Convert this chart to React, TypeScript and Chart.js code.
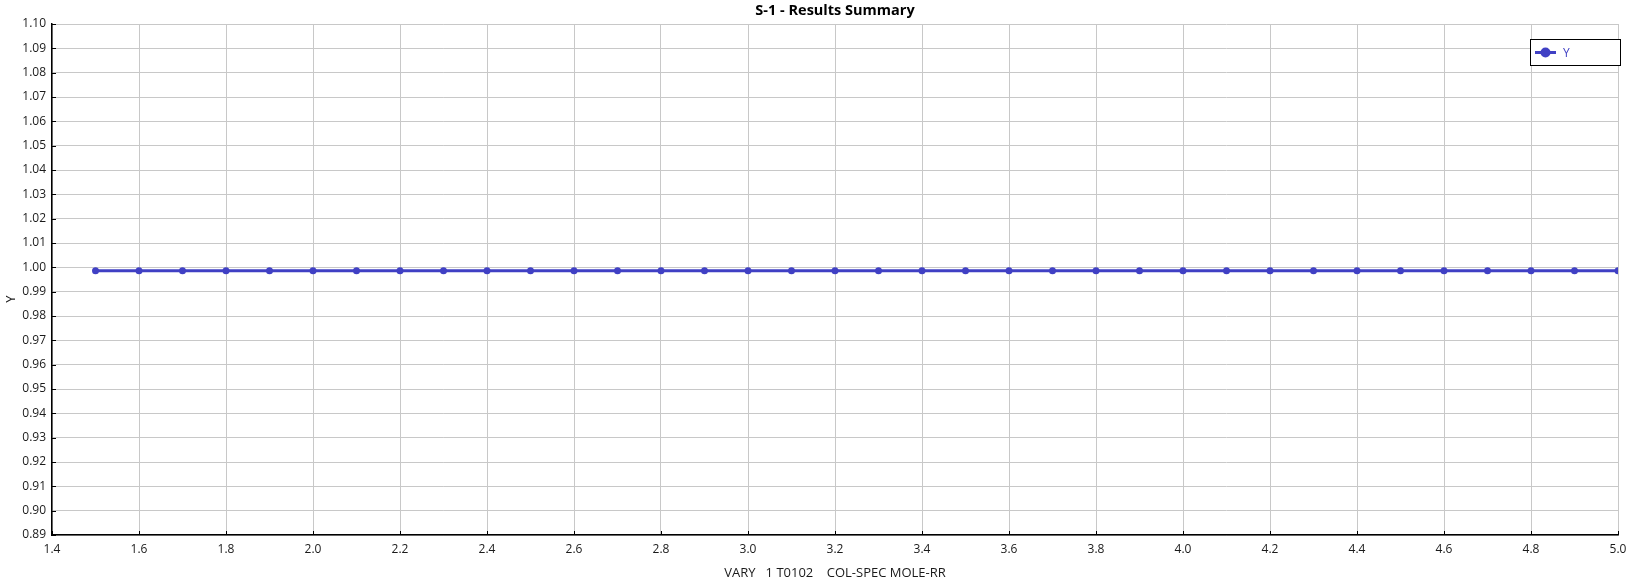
import React, { useEffect, useRef } from "react";
import { Chart, registerables } from "chart.js";

Chart.register(...registerables);

const TITLE = "S-1 - Results Summary";
const X_TITLE = "VARY   1 T0102    COL-SPEC MOLE-RR";
const Y_TITLE = "Y";
const SERIES_NAME = "Y";

const xValues = [
  1.5, 1.6, 1.7, 1.8, 1.9, 2.0, 2.1, 2.2, 2.3, 2.4, 2.5, 2.6, 2.7, 2.8, 2.9, 3.0, 3.1, 3.2,
  3.3, 3.4, 3.5, 3.6, 3.7, 3.8, 3.9, 4.0, 4.1, 4.2, 4.3, 4.4, 4.5, 4.6, 4.7, 4.8, 4.9, 5.0,
];
const yValues = [
  0.9986, 0.9986, 0.9986, 0.9986, 0.9986, 0.9986, 0.9986, 0.9986, 0.9986, 0.9986, 0.9986, 0.9986,
  0.9986, 0.9986, 0.9986, 0.9986, 0.9986, 0.9986, 0.9986, 0.9986, 0.9986, 0.9986, 0.9986, 0.9986,
  0.9986, 0.9986, 0.9986, 0.9986, 0.9986, 0.9986, 0.9986, 0.9986, 0.9986, 0.9986, 0.9986, 0.9986,
];
const xTicks = [1.4, 1.6, 1.8, 2.0, 2.2, 2.4, 2.6, 2.8, 3.0, 3.2, 3.4, 3.6, 3.8, 4.0, 4.2, 4.4, 4.6, 4.8, 5.0];
const yTicks = [
  0.89, 0.9, 0.91, 0.92, 0.93, 0.94, 0.95, 0.96, 0.97, 0.98, 0.99, 1.0, 1.01, 1.02, 1.03, 1.04,
  1.05, 1.06, 1.07, 1.08, 1.09, 1.1,
];

const SERIES_COLOR = "#4040c4";
const FONT = "'Open Sans', 'Noto Sans', sans-serif";
const W = 1639;
const H = 582;

const overlayPlugin = {
  id: "overlay",
  afterDraw(chart: any) {
    const { ctx, chartArea } = chart;
    const xs = chart.scales.x;
    const ys = chart.scales.y;
    const cx = (chartArea.left + chartArea.right) / 2;
    ctx.save();
    // inside tick marks
    ctx.strokeStyle = "#000";
    ctx.lineWidth = 1;
    ctx.beginPath();
    xs.ticks.forEach((t: any) => {
      const px = Math.round(xs.getPixelForValue(t.value)) + 0.5;
      ctx.moveTo(px, chartArea.bottom);
      ctx.lineTo(px, chartArea.bottom - 4);
    });
    ys.ticks.forEach((t: any) => {
      const py = Math.round(ys.getPixelForValue(t.value)) + 0.5;
      ctx.moveTo(chartArea.left, py);
      ctx.lineTo(chartArea.left + 4, py);
    });
    ctx.stroke();

    // chart title
    ctx.fillStyle = "#000";
    ctx.font = `bold 14.5px ${FONT}`;
    ctx.textAlign = "center";
    ctx.textBaseline = "middle";
    ctx.fillText(TITLE, cx, 11);

    // axis titles
    ctx.fillStyle = "#1a1a1a";
    ctx.font = `13px ${FONT}`;
    ctx.fillText(X_TITLE, cx, 573);
    ctx.save();
    ctx.translate(11, 299);
    ctx.rotate(-Math.PI / 2);
    ctx.fillText(Y_TITLE, 0, 0);
    ctx.restore();

    // legend
    const bx = 1530.5, by = 39.5, bw = 90, bh = 26;
    ctx.fillStyle = "#fff";
    ctx.fillRect(bx, by, bw, bh);
    ctx.strokeStyle = "#000";
    ctx.lineWidth = 1;
    ctx.strokeRect(bx, by, bw, bh);
    const ly = 52.5;
    ctx.strokeStyle = SERIES_COLOR;
    ctx.lineWidth = 3;
    ctx.beginPath();
    ctx.moveTo(1535, ly);
    ctx.lineTo(1556, ly);
    ctx.stroke();
    ctx.fillStyle = SERIES_COLOR;
    ctx.beginPath();
    ctx.arc(1545.5, ly, 5, 0, Math.PI * 2);
    ctx.fill();
    ctx.font = `12px ${FONT}`;
    ctx.textAlign = "left";
    ctx.fillText(SERIES_NAME, 1563, ly + 1);
    ctx.restore();
  },
};

export default function App() {
  const ref = useRef<HTMLCanvasElement | null>(null);

  useEffect(() => {
    document.body.style.margin = "0";
    const canvas = ref.current;
    if (!canvas) return;
    const chart = new Chart(canvas, {
      type: "line",
      data: {
        datasets: [
          {
            label: SERIES_NAME,
            data: xValues.map((x, i) => ({ x, y: yValues[i] })),
            borderColor: SERIES_COLOR,
            backgroundColor: SERIES_COLOR,
            borderWidth: 3,
            pointRadius: 3.5,
            pointBackgroundColor: SERIES_COLOR,
            pointBorderWidth: 0,
            tension: 0,
            fill: false,
          },
        ],
      },
      options: {
        responsive: false,
        animation: false,
        devicePixelRatio: 1,
        layout: { padding: { left: 0, right: 21, top: 24, bottom: 0 } },
        plugins: {
          legend: { display: false },
          tooltip: { enabled: false },
          title: { display: false },
        },
        scales: {
          x: {
            type: "linear",
            min: 1.4,
            max: 5.0,
            afterBuildTicks: (scale: any) => {
              scale.ticks = xTicks.map((v) => ({ value: v }));
            },
            afterFit: (scale: any) => {
              scale.height = 47;
            },
            grid: { color: "#c8c8c8", lineWidth: 1, drawTicks: false },
            border: { color: "#000", width: 1.5 },
            ticks: {
              color: "#1a1a1a",
              font: { family: FONT, size: 12 },
              padding: 7,
              maxRotation: 0,
              autoSkip: false,
              callback: (v: any) => Number(v).toFixed(1),
            },
          },
          y: {
            type: "linear",
            min: 0.89,
            max: 1.1,
            afterBuildTicks: (scale: any) => {
              scale.ticks = yTicks.map((v) => ({ value: v }));
            },
            afterFit: (scale: any) => {
              scale.width = 52;
            },
            grid: { color: "#c8c8c8", lineWidth: 1, drawTicks: false },
            border: { color: "#000", width: 1.5 },
            ticks: {
              color: "#1a1a1a",
              font: { family: FONT, size: 12 },
              padding: 6,
              autoSkip: false,
              callback: (v: any) => Number(v).toFixed(2),
            },
          },
        },
      } as any,
      plugins: [overlayPlugin],
    });
    return () => chart.destroy();
  }, []);

  return (
    <div style={{ position: "absolute", left: 0, top: 0, width: W, height: H, background: "#fff" }}>
      <canvas ref={ref} width={W} height={H} style={{ display: "block", width: W, height: H }} />
    </div>
  );
}
